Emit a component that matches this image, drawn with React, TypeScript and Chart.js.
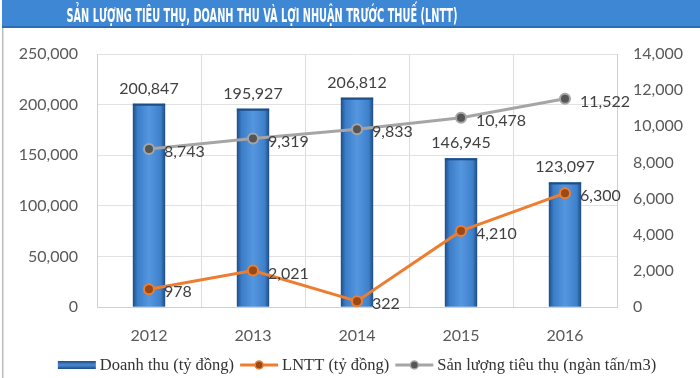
import React, { useEffect, useRef } from "react";
import { Chart, registerables } from "chart.js";

Chart.register(...registerables);

const title = "SẢN LƯỢNG TIÊU THỤ, DOANH THU VÀ LỢI NHUẬN TRƯỚC THUẾ (LNTT)";
const years = ["2012", "2013", "2014", "2015", "2016"];
const revenue = [200847, 195927, 206812, 146945, 123097];
const profit = [978, 2021, 322, 4210, 6300];
const output = [8743, 9319, 9833, 10478, 11522];
const seriesNames = ["Doanh thu (tỷ đồng)", "LNTT (tỷ đồng)", "Sản lượng tiêu thụ (ngàn tấn/m3)"];

const fmt = (v: number) => v.toLocaleString("en-US");

const AXIS_FONT = { family: "Lato, 'Open Sans', sans-serif", size: 16 };

function barGradient(ctx: CanvasRenderingContext2D, x0: number, x1: number) {
  const g = ctx.createLinearGradient(x0, 0, x1, 0);
  g.addColorStop(0, "#1f4d85");
  g.addColorStop(0.14, "#3b7cc8");
  g.addColorStop(0.5, "#5597de");
  g.addColorStop(0.86, "#3f80cb");
  g.addColorStop(1, "#1f4d85");
  return g;
}

const decorPlugin = {
  id: "decor",
  beforeDraw(chart: any) {
    const ctx = chart.ctx as CanvasRenderingContext2D;
    ctx.save();
    ctx.fillStyle = "#ffffff";
    ctx.fillRect(0, 0, chart.width, chart.height);
    // title bar
    ctx.fillStyle = "#3d87d4";
    ctx.fillRect(2, 0, chart.width - 2, 26);
    ctx.fillStyle = "#2c6db3";
    ctx.fillRect(2, 26, chart.width - 2, 2);
    // left frame line
    ctx.fillStyle = "#bdbdbd";
    ctx.fillRect(2, 28, 1.5, chart.height - 28);
    // title text
    ctx.fillStyle = "#ffffff";
    ctx.font = "bold 20px 'Liberation Sans Narrow', 'DejaVu Sans Condensed', 'Liberation Sans', sans-serif";
    ctx.textAlign = "center";
    ctx.textBaseline = "alphabetic";
    ctx.fillText(title, 262, 22, 391);
    ctx.restore();
  },
  afterDatasetDraw(chart: any, args: any) {
    if (args.index !== 0) return;
    const ctx = chart.ctx as CanvasRenderingContext2D;
    const meta = chart.getDatasetMeta(0);
    ctx.save();
    meta.data.forEach((el: any) => {
      const w = el.width;
      const x0 = el.x - w / 2;
      ctx.fillStyle = barGradient(ctx, x0, x0 + w);
      ctx.fillRect(x0, el.y, w, el.base - el.y);
      ctx.fillStyle = "#1f4d85";
      ctx.fillRect(x0, el.y, w, 2);
    });
    ctx.restore();
  },
  afterDatasetsDraw(chart: any) {
    const ctx = chart.ctx as CanvasRenderingContext2D;
    ctx.save();
    ctx.font = "16px Lato, 'Open Sans', sans-serif";
    ctx.fillStyle = "#404040";
    // bar labels
    const m0 = chart.getDatasetMeta(0);
    ctx.textAlign = "center";
    ctx.textBaseline = "alphabetic";
    m0.data.forEach((el: any, i: number) => {
      ctx.fillText(fmt(revenue[i]), el.x, el.y - 10);
    });
    // line labels
    ctx.textAlign = "left";
    ctx.textBaseline = "middle";
    [1, 2].forEach((di) => {
      const vals = di === 1 ? profit : output;
      chart.getDatasetMeta(di).data.forEach((el: any, i: number) => {
        ctx.fillText(fmt(vals[i]), el.x + 15, el.y + 3);
      });
    });
    ctx.restore();

    // legend
    ctx.save();
    ctx.font = "16.5px 'Liberation Serif', 'DejaVu Serif', serif";
    ctx.textBaseline = "middle";
    ctx.textAlign = "left";
    const y = 365;
    const sw = 38;
    const gapIn = 4;
    const gapOut = 6;
    const widths = seriesNames.map((n) => ctx.measureText(n).width);
    const total = widths.reduce((a, b) => a + b, 0) + 3 * (sw + gapIn) + 2 * gapOut;
    let x = 357 - total / 2;
    // bar swatch
    const gv = ctx.createLinearGradient(0, y - 4, 0, y + 4);
    gv.addColorStop(0, "#1f4d85");
    gv.addColorStop(0.5, "#4a8ad4");
    gv.addColorStop(1, "#1f4d85");
    ctx.fillStyle = gv;
    ctx.fillRect(x, y - 4, sw, 8);
    x += sw + gapIn;
    ctx.fillStyle = "#333333";
    ctx.fillText(seriesNames[0], x, y + 1);
    x += widths[0] + gapOut;
    const lineSwatch = (color: string, dot: string, name: string, w: number) => {
      ctx.strokeStyle = color;
      ctx.lineWidth = 3;
      ctx.beginPath();
      ctx.moveTo(x, y);
      ctx.lineTo(x + sw, y);
      ctx.stroke();
      ctx.beginPath();
      ctx.arc(x + sw / 2, y, 4, 0, Math.PI * 2);
      ctx.fillStyle = dot;
      ctx.fill();
      ctx.lineWidth = 1.5;
      ctx.stroke();
      x += sw + gapIn;
      ctx.fillStyle = "#333333";
      ctx.fillText(name, x, y + 1);
      x += w + gapOut;
    };
    lineSwatch("#ED7D31", "#9a4a16", seriesNames[1], widths[1]);
    lineSwatch("#A5A5A5", "#555555", seriesNames[2], widths[2]);
    ctx.restore();
  },
};

export default function App() {
  const ref = useRef<HTMLCanvasElement | null>(null);
  useEffect(() => {
    if (!ref.current) return;
    const chart = new Chart(ref.current, {
      type: "bar",
      data: {
        labels: years,
        datasets: [
          {
            type: "bar",
            label: seriesNames[0],
            data: revenue,
            yAxisID: "y",
            backgroundColor: "#3f80c9",
            categoryPercentage: 1,
            barPercentage: 0.31,
            order: 3,
          },
          {
            type: "line",
            label: seriesNames[1],
            data: profit,
            yAxisID: "y1",
            borderColor: "#ED7D31",
            borderWidth: 3,
            pointRadius: 5,
            pointBackgroundColor: "#9a4a16",
            pointBorderColor: "#ED7D31",
            pointBorderWidth: 2,
            tension: 0,
            order: 1,
          },
          {
            type: "line",
            label: seriesNames[2],
            data: output,
            yAxisID: "y1",
            borderColor: "#A5A5A5",
            borderWidth: 3,
            pointRadius: 5,
            pointBackgroundColor: "#555555",
            pointBorderColor: "#A5A5A5",
            pointBorderWidth: 2,
            tension: 0,
            order: 2,
          },
        ] as any,
      },
      options: {
        animation: false,
        responsive: false,
        maintainAspectRatio: false,
        devicePixelRatio: 1,
        layout: { padding: { top: 54, left: 0, right: 0, bottom: 0 } },
        plugins: {
          legend: { display: false },
          title: { display: false },
          tooltip: { enabled: false },
        },
        scales: {
          x: {
            offset: true,
            grid: { color: "#dcdcdc", drawTicks: false, offset: true },
            border: { color: "#d0d0d0" },
            ticks: { font: AXIS_FONT, color: "#595959", padding: 19 },
            afterFit: (s: any) => {
              s.height = 71;
            },
          },
          y: {
            position: "left",
            min: 0,
            max: 250000,
            grid: { color: "#e2e2e2", drawTicks: false },
            border: { color: "#d0d0d0" },
            ticks: {
              stepSize: 50000,
              font: AXIS_FONT,
              color: "#595959",
              padding: 19,
              callback: (v: any) => fmt(Number(v)),
            },
            afterFit: (s: any) => {
              s.width = 97;
            },
          },
          y1: {
            position: "right",
            min: 0,
            max: 14000,
            grid: { drawOnChartArea: false, drawTicks: false },
            border: { color: "#d0d0d0" },
            ticks: {
              stepSize: 2000,
              font: AXIS_FONT,
              color: "#595959",
              padding: 16,
              callback: (v: any) => fmt(Number(v)),
            },
            afterFit: (s: any) => {
              s.width = 83;
            },
          },
        },
      } as any,
      plugins: [decorPlugin],
    });
    return () => chart.destroy();
  }, []);
  return (
    <div style={{ position: "fixed", left: 0, top: 0, width: 700, height: 378, background: "#fff" }}>
      <canvas ref={ref} width={700} height={378} style={{ width: 700, height: 378, display: "block" }} />
    </div>
  );
}
